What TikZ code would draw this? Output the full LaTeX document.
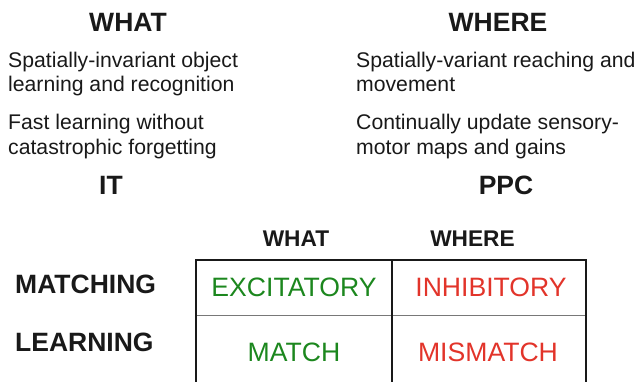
\documentclass[tikz,border=0pt]{standalone}
\usepackage{fontspec}
\setmainfont{Liberation Sans}
\definecolor{ink}{RGB}{25,25,25}
\definecolor{okgreen}{RGB}{28,135,30}
\definecolor{badred}{RGB}{226,52,42}
\definecolor{divgray}{RGB}{120,120,120}
\begin{document}
\begin{tikzpicture}[x=1pt,y=-1pt,
  head/.style={font=\fontsize{26.5}{30}\bfseries\selectfont, text=ink, inner sep=0pt, anchor=base},
  body/.style={font=\fontsize{21.2}{24.5}\selectfont, text=ink, inner sep=0pt, anchor=base west, align=left},
  colhead/.style={font=\fontsize{22.7}{26}\bfseries\selectfont, text=ink, inner sep=0pt, anchor=base},
  rowhead/.style={font=\fontsize{26.5}{30}\bfseries\selectfont, text=ink, inner sep=0pt, anchor=base west},
  cell/.style={font=\fontsize{26.6}{30}\selectfont, inner sep=0pt, anchor=base},
  outerline/.style={draw=ink, line width=2pt},
  innerline/.style={draw=ink, line width=1.1pt},
  divline/.style={draw=divgray, line width=1.5pt}]
\useasboundingbox (0,0) rectangle (638,382);
% top headings
\node[head] (what) at (128,32) {WHAT};
\node[head] (where) at (498,32) {WHERE};
\node[body] (w1) at (8,68) {Spatially-invariant object};
\node[body] (w2) at (8,92) {learning and recognition};
\node[body] (w3) at (8,130) {Fast learning without};
\node[body] (w4) at (8,155) {catastrophic forgetting};
\node[body] (r1) at (356,68) {Spatially-variant reaching and};
\node[body] (r2) at (356,92) {movement};
\node[body] (r3) at (356,130) {Continually update sensory-};
\node[body] (r4) at (356,155) {motor maps and gains};
\node[head] (it) at (111,195) {IT};
\node[head] (ppc) at (506,195) {PPC};
% table
\node[colhead] (cwhat) at (296,247) {WHAT};
\node[colhead] (cwhere) at (472.5,247) {WHERE};
\node[rowhead] (matching) at (15,294) {MATCHING};
\node[rowhead] (learning) at (15,352) {LEARNING};
\draw[divline] (196,315.5) -- (586,315.5);
\draw[innerline] (392,260) -- (392,383);
\draw[outerline] (196,384) -- (196,260) -- (586,260) -- (586,384);
\node[cell, text=okgreen] (exc) at (294,297) {EXCITATORY};
\node[cell, text=badred] (inh) at (491,297) {INHIBITORY};
\node[cell, text=okgreen] (match) at (294,362) {MATCH};
\node[cell, text=badred] (mismatch) at (488,362) {MISMATCH};
\end{tikzpicture}
\end{document}
